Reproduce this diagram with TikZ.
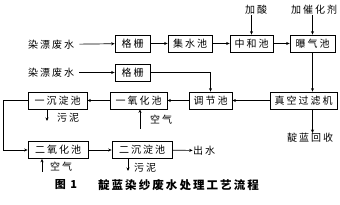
\documentclass[tikz,border=0pt]{standalone}
\usepackage{fontspec}
\newfontfamily\cjk{Noto Sans CJK SC}[LetterSpace=20]
\newfontfamily\cjkcap{Noto Sans CJK SC}[LetterSpace=18]
\usetikzlibrary{arrows.meta}

\begin{document}
\begin{tikzpicture}[
    x=1pt, y=-1pt,
    >={Stealth[length=3.5pt,width=3pt]},
    line width=0.7pt,
    box/.style={draw, minimum height=17pt, inner sep=0pt, font=\cjk\fontsize{10}{10}\selectfont}, % 处理单元
    lbl/.style={inner sep=0pt, font=\cjk\fontsize{10}{10}\selectfont} % 文字标注
]
\useasboundingbox (0,0) rectangle (340,205);

% ========== 处理单元 ==========
\foreach \n/\x/\y/\w/\t in {
    gs1/132.5/43.5/35/格栅, jsc/190/43.5/44/集水池, zhc/251.5/43.5/43/中和池,
    bqc/312.5/43.5/45/曝气池, gs2/132.5/72.5/35/格栅, zkl/303.5/100.5/67/真空过滤机,
    tjc/210.5/100.5/43/调节池, yyh/138.5/100.5/57/一氧化池, ycd/57.5/100.5/59/一沉淀池,
    eyh/58/150/60/二氧化池, ecd/142/150/60/二沉淀池} {
    \node[box, minimum width=\w pt] (\n) at (\x,\y) {\t};
}

% ========== 进出水与投加 ==========
\node[lbl] (src1) at (51,44.5) {染漂废水};
\node[lbl] (src2) at (51,72.5) {染漂废水};
\node[lbl] (js) at (256,10) {加酸};
\node[lbl] (jc) at (314,10) {加催化剂};
\node[lbl] (hs) at (310,138) {靛蓝回收};
\node[lbl] (cs) at (204,150.5) {出水};

% 主流程
\draw[->, shorten <=5pt] (src1) -- (gs1);
\draw[->] (gs1) -- (jsc);
\draw[->] (jsc) -- (zhc);
\draw[->] (zhc) -- (bqc);
\draw[->, shorten <=5pt] (src2) -- (gs2);
\draw[->] (gs2.east) -| (tjc.north);
\draw[->] (js.south -| zhc.north) -- (zhc.north);
\draw[->] (jc.south -| bqc.north) -- (bqc.north);
\draw[->] (bqc.south) -- (bqc.south |- zkl.north);
\draw[->] (zkl.south -| bqc.south) -- (hs.north -| bqc.south);
\draw[->] (zkl) -- (tjc);
\draw[->] (tjc) -- (yyh);
\draw[->] (yyh) -- (ycd);
\draw[->] (ycd.west) -- ++(-24,0) |- (eyh.west);
\draw[->] (eyh) -- (ecd);
\draw[->] (ecd) -- (cs);

% 污泥与空气
\coordinate (wn1) at (47,121);
\coordinate (kq1) at (140,129);
\coordinate (kq2) at (42,172);
\coordinate (wn2) at (128,171);
\draw[->] (ycd.south -| wn1) -- (wn1);
\draw[->] (kq1) -- (kq1 |- yyh.south);
\draw[->] (kq2) -- (kq2 |- eyh.south);
\draw[->] (ecd.south -| wn2) -- (wn2);
\node[lbl] (wn1t) at (68,118) {污泥};
\node[lbl] (kq1t) at (161,120) {空气};
\node[lbl] (kq2t) at (61,167) {空气};
\node[lbl] (wn2t) at (145,168) {污泥};

% ========== 图题 ==========
\node[inner sep=0pt, font=\cjkcap\bfseries\fontsize{11}{11}\selectfont] (tu) at (66,185) {图 1};
\node[inner sep=0pt, font=\cjkcap\bfseries\fontsize{11.5}{11.5}\selectfont] (title) at (178.5,185) {靛蓝染纱废水处理工艺流程};

\end{tikzpicture}
\end{document}
